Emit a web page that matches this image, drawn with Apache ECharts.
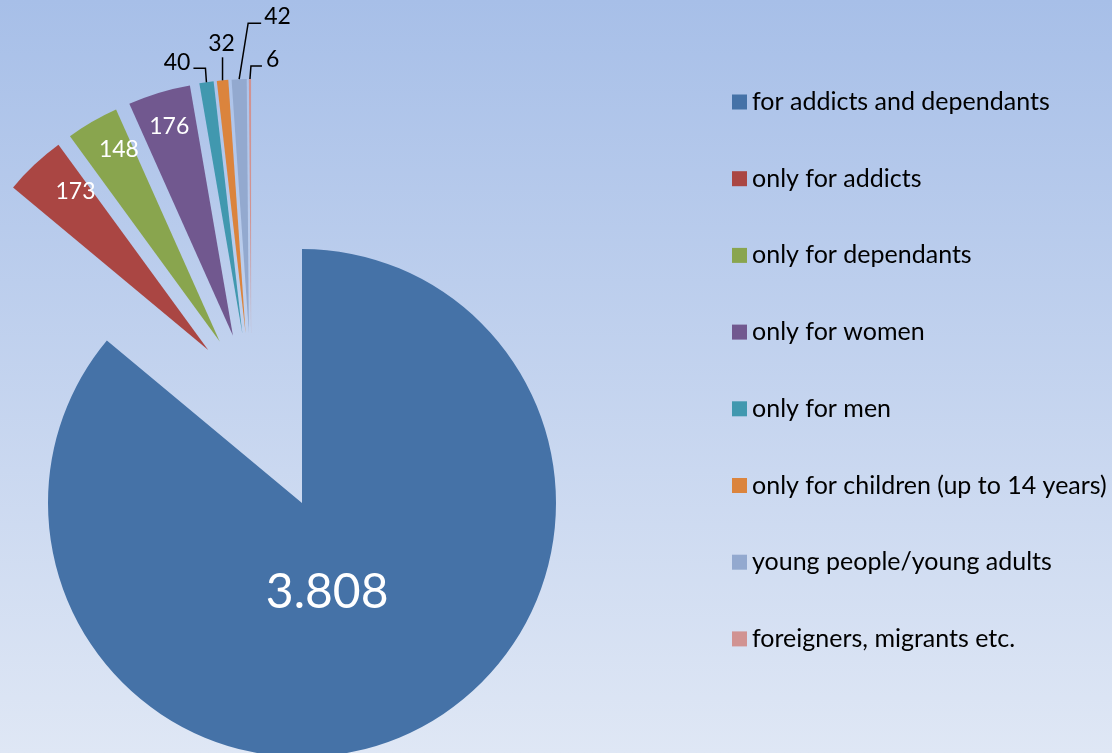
<!DOCTYPE html>
<html><head><meta charset="utf-8">
<script src="https://cdn.jsdelivr.net/npm/echarts@6/dist/echarts.min.js"></script>
<style>html,body{margin:0;padding:0;overflow:hidden;} #c{width:1112px;height:753px;}</style>
</head><body><div id="c"></div>
<script>
const categories = ['for addicts and dependants','only for addicts','only for dependants','only for women','only for men','only for children (up to 14 years)','young people/young adults','foreigners, migrants etc.'];
const values = [3808, 173, 148, 176, 40, 32, 42, 6];
const labelTexts = ['3.808', '173', '148', '176', '40', '32', '42', '6'];
const colors = ['#4572a7','#aa4643','#89a54e','#71588f','#4198af','#db843d','#93a9cf','#d19392'];

const FONT = 'Lato';
const R = 254;
const CS = [251.3, 396];   // centre of the exploded small slices
const EXPLODE = 63;
const restSum = values.slice(1).reduce((a, b) => a + b, 0);

// outside label configs (relative to exploded slice outer point)
const outCfg = {
  4: { line: [[-1, -14], [-13, -14]], lx: -16, ly: -20, align: 'right' },
  5: { line: [[0, -23]], lx: -1, ly: -37, align: 'center' },
  6: { line: [[9, -56], [22, -56]], lx: 25, ly: -63, align: 'left' },
  7: { line: [[1, -13], [12, -13]], lx: 16, ly: -19, align: 'left' }
};
// small nudges of inside labels
const inTweak = { 1: [17, 1], 2: [9, -3], 3: [0, 0] };

function unit(px, py) {
  const dx = px - CS[0], dy = py - CS[1];
  const l = Math.sqrt(dx * dx + dy * dy) || 1;
  return [dx / l, dy / l];
}

const seriesA = {
  type: 'pie', center: [302, 503], radius: [0, R], startAngle: 90, clockwise: true,
  avoidLabelOverlap: false, silent: true, z: 2,
  itemStyle: { borderWidth: 0 },
  emphasis: { disabled: true },
  label: { show: true, position: 'inside', color: '#fff', fontFamily: FONT, fontSize: 48, formatter: () => labelTexts[0] },
  labelLine: { show: false },
  labelLayout: (p) => p.dataIndex === 0 ? { dx: -30, dy: -28 } : {},
  data: [
    { name: categories[0], value: values[0], itemStyle: { color: colors[0] } },
    { name: '', value: restSum, itemStyle: { color: 'transparent' }, label: { show: false } }
  ]
};

const smallData = (mode) => [{ name: '', value: values[0], itemStyle: { color: 'transparent' }, label: { show: false }, labelLine: { show: false } }]
  .concat(values.slice(1).map((v, i) => {
    const idx = i + 1;
    const d = { name: categories[idx], value: v };
    if (mode === 'slices') {
      d.selected = true;
      d.itemStyle = { color: colors[idx] };
    } else if (mode === 'inside') {
      d.itemStyle = { color: 'transparent' };
      d.label = { show: idx <= 3 };
    } else {
      d.itemStyle = { color: 'transparent' };
      d.label = { show: idx >= 4 };
      d.labelLine = { show: idx >= 4 };
    }
    return d;
  }));

const seriesB = {
  type: 'pie', center: CS, radius: [0, R], startAngle: 90, clockwise: true,
  selectedMode: 'multiple', selectedOffset: EXPLODE, avoidLabelOverlap: false, silent: true, z: 2,
  itemStyle: { borderWidth: 0 },
  select: { itemStyle: { borderWidth: 0 } },
  emphasis: { disabled: true },
  label: { show: false }, labelLine: { show: false },
  data: smallData('slices')
};

const seriesC = {
  type: 'pie', center: CS, radius: [R * 0.7, R], startAngle: 90, clockwise: true,
  avoidLabelOverlap: false, silent: true, z: 3,
  itemStyle: { borderWidth: 0 },
  emphasis: { disabled: true },
  label: { position: 'inside', color: '#fff', fontFamily: FONT, fontSize: 23, formatter: (p) => labelTexts[p.dataIndex] },
  labelLine: { show: false },
  labelLayout: (p) => {
    const t = inTweak[p.dataIndex];
    if (!t) return {};
    const r = p.labelRect;
    const u = unit(r.x + r.width / 2, r.y + r.height / 2);
    return { dx: u[0] * EXPLODE + t[0], dy: u[1] * EXPLODE + t[1] };
  },
  data: smallData('inside')
};

const seriesD = {
  type: 'pie', center: CS, radius: [0, R], startAngle: 90, clockwise: true,
  avoidLabelOverlap: false, silent: true, z: 3,
  itemStyle: { borderWidth: 0 },
  emphasis: { disabled: true },
  label: { position: 'outside', color: '#000', fontFamily: FONT, fontSize: 23, formatter: (p) => labelTexts[p.dataIndex] },
  labelLine: { show: true, length: 12, length2: 10, lineStyle: { color: '#000', width: 1.5 } },
  labelLayout: (p) => {
    const c = outCfg[p.dataIndex];
    if (!c || !p.labelLinePoints) return {};
    const p0 = p.labelLinePoints[0];
    const u = unit(p0[0], p0[1]);
    const q = [p0[0] + u[0] * EXPLODE, p0[1] + u[1] * EXPLODE];
    const pts = [q].concat(c.line.map(o => [q[0] + o[0], q[1] + o[1]]));
    return { x: q[0] + c.lx, y: q[1] + c.ly, align: c.align, verticalAlign: 'middle', labelLinePoints: pts };
  },
  data: smallData('outside')
};

const chart = echarts.init(document.getElementById('c'), null, { renderer: 'canvas' });
chart.setOption({
  animation: false,
  backgroundColor: { type: 'linear', x: 0, y: 0, x2: 0, y2: 1, colorStops: [{ offset: 0, color: '#a7bfe8' }, { offset: 1, color: '#dfe7f5' }] },
  legend: {
    orient: 'vertical', left: 732, top: 89.5, padding: 0, itemWidth: 15, itemHeight: 15, itemGap: 51.7,
    icon: 'rect', selectedMode: false,
    textStyle: { fontFamily: FONT, fontSize: 25, color: '#000', lineHeight: 24 },
    data: categories
  },
  series: [seriesA, seriesB, seriesC, seriesD]
});
</script></body></html>
